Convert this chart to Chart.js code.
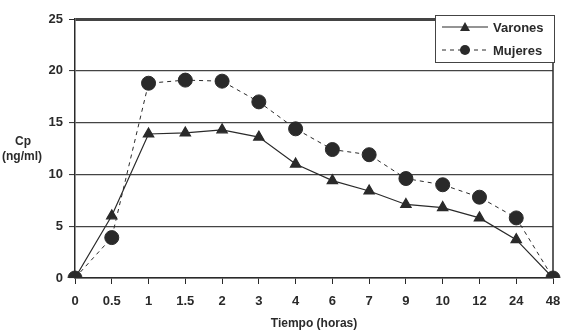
<!DOCTYPE html>
<html>
<head>
<meta charset="utf-8">
<script src="https://cdn.jsdelivr.net/npm/chart.js@4"></script>
<style>
  html, body { margin: 0; padding: 0; background: #fff; }
  #grafico { display: block; }
</style>
</head>
<body>
<canvas id="grafico" width="561" height="333"></canvas>
<script>
// Datos
const tiempos = ['0', '0.5', '1', '1.5', '2', '3', '4', '6', '7', '9', '10', '12', '24', '48'];
const varones = [0, 6.0, 13.9, 14.0, 14.3, 13.6, 11.0, 9.4, 8.4, 7.1, 6.8, 5.8, 3.7, 0];
const mujeres = [0, 3.9, 18.8, 19.1, 19.0, 17.0, 14.4, 12.4, 11.9, 9.6, 9.0, 7.8, 5.8, 0];
const ticksY = [0, 5, 10, 15, 20, 25];

const tinta = '#2a2a2a';
const fuente = "'Liberation Sans', Arial, sans-serif";

// Leyenda con línea + marcador, y rótulo "Cp (ng/ml)" horizontal
const extras = {
  id: 'extras',
  afterDraw(chart) {
    const ctx = chart.ctx;
    const area = chart.chartArea;
    ctx.save();
    // rótulo eje Y
    ctx.fillStyle = tinta;
    ctx.font = 'bold 12px ' + fuente;
    ctx.textAlign = 'left';
    ctx.textBaseline = 'middle';
    ctx.fillText('Cp', 15, 142);
    ctx.fillText('(ng/ml)', 2, 157);

    // borde derecho
    ctx.strokeStyle = tinta;
    ctx.lineWidth = 1.5;
    ctx.beginPath();
    ctx.moveTo(area.right, area.top);
    ctx.lineTo(area.right, area.bottom);
    ctx.stroke();

    // caja de leyenda
    const bx = 435, by = 15, bw = 119, bh = 47;
    ctx.fillStyle = '#fff';
    ctx.fillRect(bx, by, bw, bh);
    ctx.lineWidth = 1;
    ctx.strokeStyle = '#444';
    ctx.strokeRect(bx + 0.5, by + 0.5, bw, bh);

    chart.data.datasets.forEach((ds, i) => {
      const y = by + 12 + i * 23;
      ctx.strokeStyle = ds.borderColor;
      ctx.lineWidth = ds.borderWidth;
      ctx.setLineDash(ds.borderDash || []);
      ctx.beginPath();
      ctx.moveTo(bx + 7, y);
      ctx.lineTo(bx + 53, y);
      ctx.stroke();
      ctx.setLineDash([]);
      ctx.fillStyle = ds.pointBackgroundColor;
      ctx.beginPath();
      if (ds.pointStyle === 'triangle') {
        ctx.moveTo(bx + 30, y - 5);
        ctx.lineTo(bx + 35, y + 4);
        ctx.lineTo(bx + 25, y + 4);
        ctx.closePath();
      } else {
        ctx.arc(bx + 30, y, 5, 0, Math.PI * 2);
      }
      ctx.fill();
      ctx.fillStyle = tinta;
      ctx.font = 'bold 13px ' + fuente;
      ctx.textAlign = 'left';
      ctx.textBaseline = 'middle';
      ctx.fillText(ds.label, bx + 58, y + 1);
    });
    ctx.restore();
  }
};

new Chart(document.getElementById('grafico'), {
  type: 'line',
  data: {
    labels: tiempos,
    datasets: [
      {
        label: 'Varones',
        data: varones,
        borderColor: tinta,
        borderWidth: 1.2,
        pointStyle: 'triangle',
        pointRadius: 6,
        pointBackgroundColor: tinta,
        pointBorderColor: tinta,
        tension: 0
      },
      {
        label: 'Mujeres',
        data: mujeres,
        borderColor: tinta,
        borderWidth: 1,
        borderDash: [4, 4],
        pointStyle: 'circle',
        pointRadius: 7,
        pointBackgroundColor: tinta,
        pointBorderColor: tinta,
        tension: 0
      }
    ]
  },
  options: {
    responsive: false,
    animation: false,
    layout: { padding: { left: 0, right: 7, top: 19, bottom: 0 } },
    plugins: {
      legend: { display: false },
      tooltip: { enabled: false }
    },
    scales: {
      x: {
        offset: false,
        afterFit(scale) {
          scale.height = 55;
          scale.paddingLeft = 0;
          scale.paddingRight = 0;
        },
        grid: {
          drawOnChartArea: false,
          tickLength: 6,
          tickWidth: 1,
          tickColor: tinta
        },
        border: { color: tinta, width: 1.5 },
        ticks: {
          color: tinta,
          font: { family: fuente, size: 13, weight: 'bold' },
          padding: 10,
          maxRotation: 0,
          autoSkip: false
        },
        title: {
          display: true,
          text: 'Tiempo (horas)',
          color: tinta,
          font: { family: fuente, size: 12, weight: 'bold' },
          padding: { top: 8, bottom: 2 }
        }
      },
      y: {
        min: 0,
        max: 25,
        afterFit(scale) { scale.width = 75; },
        afterBuildTicks(scale) {
          scale.ticks = ticksY.map(v => ({ value: v }));
        },
        grid: {
          color: '#444',
          lineWidth: ctx => (ctx.tick && ctx.tick.value === 25 ? 3 : 1.2),
          tickLength: 6,
          tickWidth: 1,
          tickColor: tinta
        },
        border: { color: tinta, width: 1.5 },
        ticks: {
          color: tinta,
          font: { family: fuente, size: 13, weight: 'bold' },
          padding: 6
        }
      }
    }
  },
  plugins: [extras]
});
</script>
</body>
</html>
